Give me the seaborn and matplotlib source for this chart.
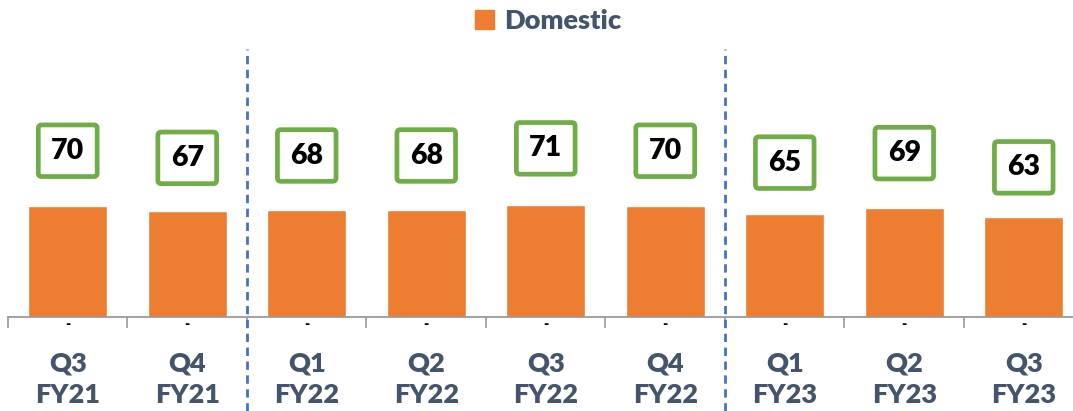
import matplotlib
matplotlib.use("Agg")
import matplotlib.pyplot as plt
import matplotlib.patches as mpatches
import numpy as np
import pandas as pd
import seaborn as sns

quarters = ['Q3\nFY21', 'Q4\nFY21', 'Q1\nFY22', 'Q2\nFY22', 'Q3\nFY22',
            'Q4\nFY22', 'Q1\nFY23', 'Q2\nFY23', 'Q3\nFY23']
domestic = [70, 67, 68, 68, 71, 70, 65, 69, 63]
dividers = [1.5, 5.5]   # year separators between categories

sns.set_style('white')
plt.rcParams['font.family'] = ['Lato', 'DejaVu Sans']

bar_col = '#ED7D31'
txt_col = '#44546A'
box_col = '#70AD47'
line_col = '#4472C4'

df = pd.DataFrame({'quarter': quarters, 'domestic': domestic})

fig = plt.figure(figsize=(10.73, 4.11), dpi=100)
W, H = 1073, 411
ax = fig.add_axes([8 / W, 94 / H, 1075.5 / W, 317 / H])

sns.barplot(ax=ax, data=df, x='quarter', y='domestic', color=bar_col,
            saturation=1, width=0.66)
ax.set_ylim(0, 317 / 1.58)
ax.set_xlim(-0.5, len(quarters) - 0.5)
ax.set(xlabel='', ylabel='')
ax.set_yticks([])
for s in ['top', 'right', 'left']:
    ax.spines[s].set_visible(False)
ax.spines['bottom'].set_color('#9A9A9A')
ax.spines['bottom'].set_linewidth(1.3)

ax.tick_params(axis='x', which='major', length=0, pad=25)
ax.set_xticks(np.arange(-0.5, len(quarters)), minor=True)
ax.tick_params(axis='x', which='minor', length=8, width=1.2, color='#9A9A9A',
               direction='out', bottom=True)
for lab in ax.get_xticklabels():
    lab.set_fontsize(19.5)
    lab.set_fontweight('heavy')
    lab.set_color(txt_col)
    lab.set_linespacing(1.36)

# zero-value series labels shown as small dashes
for i in range(len(quarters)):
    ax.annotate('-', (i, 0), xytext=(0, -0.5), textcoords='offset points',
                ha='center', va='top', fontsize=10, fontweight='heavy', color='black')

for d in dividers:
    ax.axvline(d, ymin=-0.297, ymax=0.845, clip_on=False, color=line_col,
               lw=2, ls=(0, (3, 2)))

# boxed value labels on secondary scale
ax2 = ax.twinx()
ax2.set_ylim(0, 317 / 2.375)
ax2.axis('off')
for i, v in enumerate(domestic):
    ax2.text(i, v, str(v), ha='center', va='center', fontsize=20.5,
             fontweight='heavy', color='black',
             bbox=dict(boxstyle='round,pad=0.45,rounding_size=0.12',
                       fc='white', ec=box_col, lw=3.4))

handle = mpatches.Patch(color=bar_col, label='Domestic')
leg = fig.legend(handles=[handle], loc='center', bbox_to_anchor=(548 / W, 1 - 21 / H),
                 frameon=False, fontsize=19.5, handlelength=0.7, handleheight=0.7,
                 handletextpad=0.35, borderaxespad=0)
for t in leg.get_texts():
    t.set_color(txt_col)
    t.set_fontweight('heavy')

fig.savefig('out.png', dpi=100)
